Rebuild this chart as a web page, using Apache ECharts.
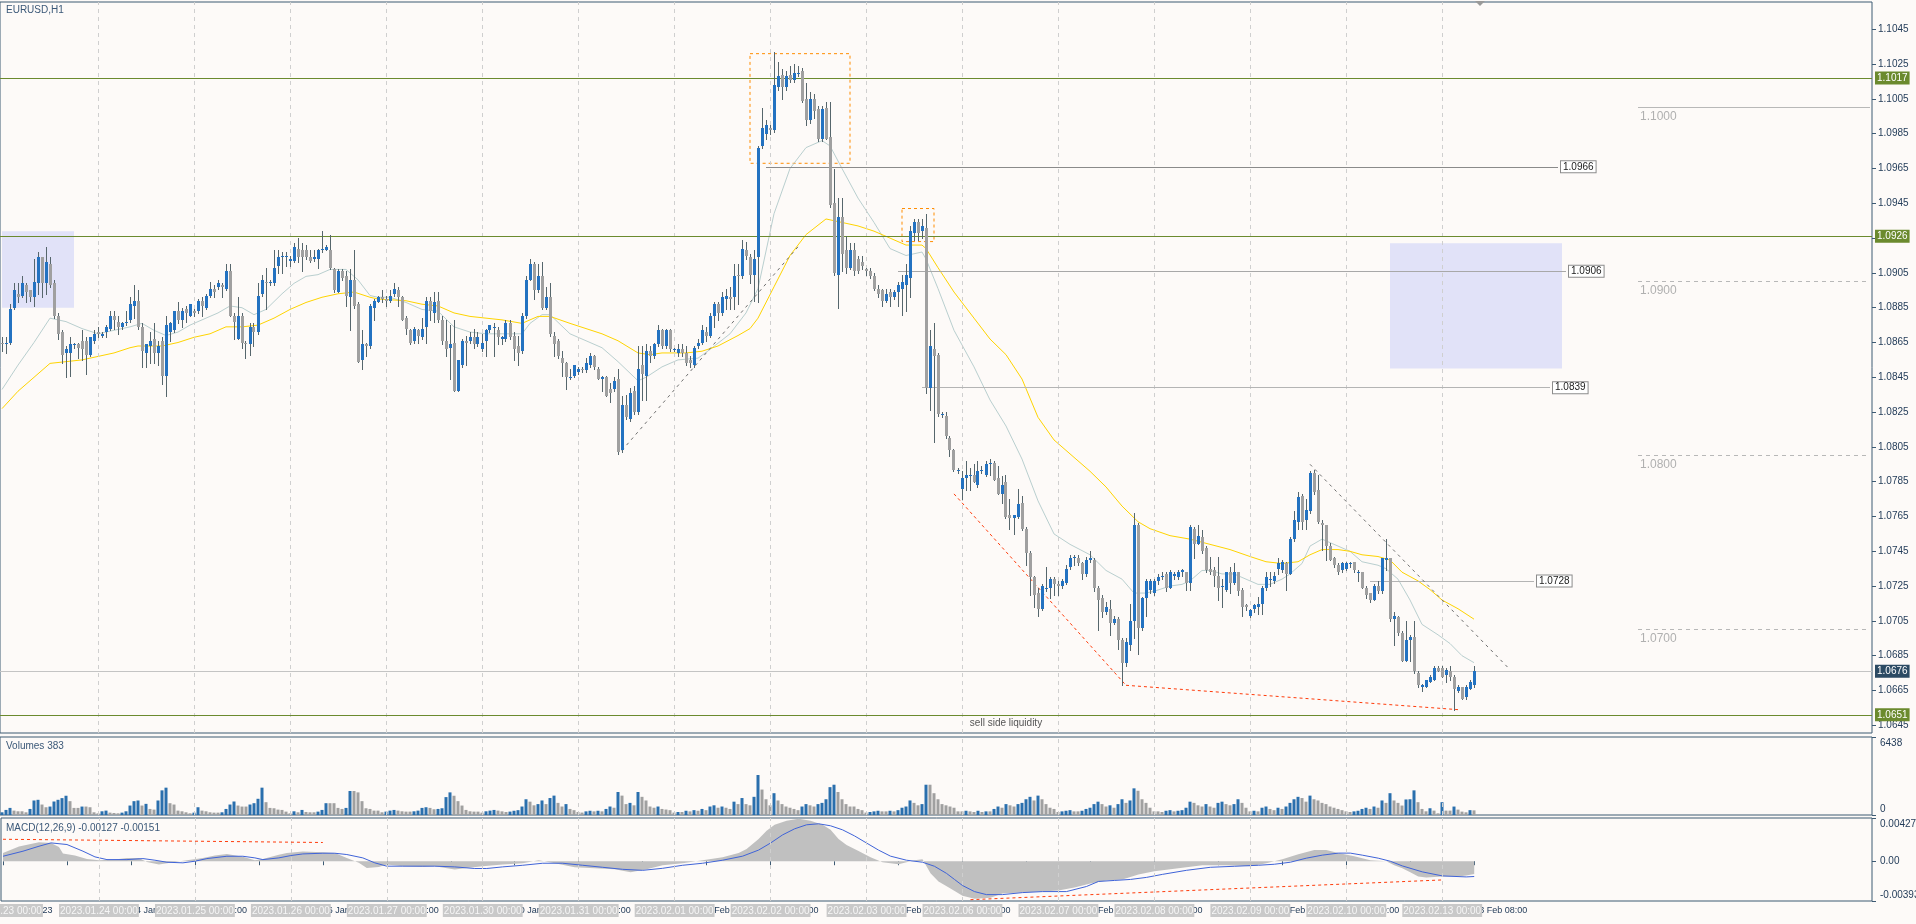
<!DOCTYPE html>
<html><head><meta charset="utf-8">
<script src="https://cdn.jsdelivr.net/npm/echarts@6/dist/echarts.min.js"></script>
<style>html,body{margin:0;padding:0;background:#fdfaf8;}#c{width:1916px;height:924px;}</style>
</head><body><div id="c"></div>
<script>
// ---------- DATA ----------
const dayShort = ['23 Jan','24 Jan','25 Jan','26 Jan','27 Jan','30 Jan','31 Jan','1 Feb','2 Feb','3 Feb','6 Feb','7 Feb','8 Feb','9 Feb','10 Feb','13 Feb','14 Feb','15 Feb','16 Feb','17 Feb'];
const dayFull = ['2023.01.23 00:00','2023.01.24 00:00','2023.01.25 00:00','2023.01.26 00:00','2023.01.27 00:00','2023.01.30 00:00','2023.01.31 00:00','2023.02.01 00:00','2023.02.02 00:00','2023.02.03 00:00','2023.02.06 00:00','2023.02.07 00:00','2023.02.08 00:00','2023.02.09 00:00','2023.02.10 00:00','2023.02.13 00:00'];
// hourly candles [open, high, low, close], EURUSD H1 from 2023.01.23 00:00
const candles = [
[1.0865,1.0868,1.0860,1.0864],[1.0864,1.0868,1.0859,1.0865],[1.0865,1.0887,1.0864,1.0884],[1.0885,1.0899,1.0884,1.0895],[1.0893,1.0899,1.0888,1.0891],
[1.0892,1.0903,1.0891,1.0899],[1.0898,1.0899,1.0888,1.0894],[1.0895,1.0895,1.0889,1.0891],[1.0891,1.0913,1.0886,1.0900],[1.0899,1.0917,1.0893,1.0914],
[1.0914,1.0914,1.0891,1.0899],[1.0899,1.0920,1.0893,1.0911],[1.0910,1.0914,1.0897,1.0898],[1.0899,1.0901,1.0879,1.0880],[1.0880,1.0882,1.0867,1.0870],
[1.0871,1.0872,1.0853,1.0858],[1.0859,1.0863,1.0845,1.0861],[1.0859,1.0868,1.0846,1.0864],[1.0864,1.0865,1.0862,1.0864],[1.0864,1.0865,1.0856,1.0862],
[1.0866,1.0872,1.0855,1.0861],[1.0866,1.0868,1.0847,1.0858],[1.0858,1.0868,1.0857,1.0868],[1.0866,1.0872,1.0865,1.0870],[1.0871,1.0874,1.0868,1.0870],
[1.0869,1.0871,1.0868,1.0870],[1.0871,1.0875,1.0868,1.0874],[1.0873,1.0883,1.0872,1.0880],[1.0880,1.0883,1.0873,1.0878],[1.0877,1.0880,1.0870,1.0874],
[1.0874,1.0877,1.0873,1.0876],[1.0876,1.0883,1.0875,1.0877],[1.0878,1.0891,1.0877,1.0887],[1.0886,1.0898,1.0879,1.0889],[1.0889,1.0895,1.0873,1.0874],
[1.0874,1.0876,1.0851,1.0860],[1.0859,1.0863,1.0851,1.0864],[1.0863,1.0871,1.0853,1.0866],[1.0867,1.0876,1.0853,1.0859],[1.0859,1.0866,1.0852,1.0863],
[1.0866,1.0868,1.0841,1.0846],[1.0846,1.0880,1.0834,1.0875],[1.0871,1.0877,1.0866,1.0876],[1.0872,1.0883,1.0871,1.0883],[1.0883,1.0888,1.0876,1.0878],
[1.0878,1.0885,1.0874,1.0883],[1.0884,1.0886,1.0877,1.0882],[1.0880,1.0887,1.0880,1.0887],[1.0883,1.0884,1.0880,1.0882],[1.0883,1.0890,1.0882,1.0889],
[1.0889,1.0891,1.0880,1.0886],[1.0885,1.0893,1.0884,1.0892],[1.0892,1.0900,1.0891,1.0896],[1.0896,1.0898,1.0891,1.0894],[1.0897,1.0901,1.0896,1.0899],
[1.0898,1.0899,1.0891,1.0897],[1.0896,1.0910,1.0895,1.0906],[1.0906,1.0910,1.0880,1.0880],[1.0880,1.0882,1.0867,1.0877],[1.0867,1.0891,1.0867,1.0880],
[1.0880,1.0882,1.0862,1.0865],[1.0865,1.0866,1.0856,1.0864],[1.0864,1.0876,1.0858,1.0874],[1.0874,1.0876,1.0863,1.0871],[1.0871,1.0899,1.0870,1.0892],
[1.0893,1.0904,1.0892,1.0901],[1.0900,1.0908,1.0884,1.0899],[1.0899,1.0901,1.0898,1.0900],[1.0899,1.0918,1.0898,1.0908],[1.0909,1.0918,1.0905,1.0914],
[1.0914,1.0917,1.0905,1.0915],[1.0914,1.0917,1.0909,1.0915],[1.0912,1.0915,1.0909,1.0913],[1.0912,1.0922,1.0911,1.0920],[1.0919,1.0925,1.0911,1.0914],
[1.0918,1.0922,1.0906,1.0914],[1.0918,1.0921,1.0913,1.0914],[1.0914,1.0918,1.0911,1.0912],[1.0913,1.0918,1.0912,1.0914],[1.0913,1.0919,1.0908,1.0918],
[1.0918,1.0929,1.0917,1.0919],[1.0918,1.0921,1.0918,1.0920],[1.0918,1.0927,1.0907,1.0908],[1.0907,1.0908,1.0894,1.0895],[1.0894,1.0907,1.0894,1.0906],
[1.0906,1.0907,1.0901,1.0902],[1.0903,1.0906,1.0886,1.0892],[1.0891,1.0907,1.0872,1.0901],[1.0901,1.0918,1.0885,1.0886],[1.0887,1.0888,1.0854,1.0854],
[1.0855,1.0872,1.0850,1.0864],[1.0864,1.0865,1.0857,1.0863],[1.0863,1.0887,1.0862,1.0886],[1.0885,1.0890,1.0878,1.0889],[1.0888,1.0892,1.0888,1.0891],
[1.0891,1.0895,1.0888,1.0890],[1.0890,1.0892,1.0886,1.0889],[1.0889,1.0895,1.0888,1.0892],[1.0893,1.0899,1.0892,1.0896],[1.0895,1.0897,1.0886,1.0891],
[1.0891,1.0892,1.0878,1.0878],[1.0879,1.0880,1.0870,1.0873],[1.0872,1.0873,1.0864,1.0865],[1.0866,1.0874,1.0865,1.0873],[1.0872,1.0873,1.0865,1.0869],
[1.0868,1.0879,1.0867,1.0873],[1.0874,1.0891,1.0865,1.0889],[1.0889,1.0891,1.0878,1.0883],[1.0882,1.0894,1.0877,1.0888],[1.0889,1.0894,1.0877,1.0878],
[1.0878,1.0880,1.0864,1.0866],[1.0866,1.0878,1.0857,1.0861],[1.0862,1.0875,1.0844,1.0864],[1.0865,1.0878,1.0837,1.0837],[1.0837,1.0855,1.0837,1.0855],
[1.0852,1.0867,1.0851,1.0866],[1.0866,1.0869,1.0852,1.0865],[1.0866,1.0871,1.0865,1.0868],[1.0868,1.0873,1.0862,1.0864],[1.0864,1.0871,1.0863,1.0868],
[1.0861,1.0870,1.0860,1.0865],[1.0866,1.0873,1.0857,1.0872],[1.0872,1.0875,1.0871,1.0875],[1.0874,1.0876,1.0857,1.0874],[1.0872,1.0874,1.0864,1.0868],
[1.0867,1.0869,1.0864,1.0868],[1.0867,1.0878,1.0866,1.0876],[1.0876,1.0878,1.0867,1.0868],[1.0869,1.0871,1.0855,1.0861],[1.0863,1.0869,1.0852,1.0859],
[1.0860,1.0882,1.0859,1.0880],[1.0880,1.0903,1.0879,1.0901],[1.0901,1.0913,1.0901,1.0910],[1.0910,1.0911,1.0890,1.0895],[1.0895,1.0910,1.0894,1.0903],
[1.0903,1.0911,1.0884,1.0885],[1.0885,1.0897,1.0884,1.0891],[1.0891,1.0899,1.0869,1.0870],[1.0869,1.0871,1.0857,1.0864],[1.0866,1.0867,1.0856,1.0857],
[1.0856,1.0860,1.0846,1.0853],[1.0853,1.0854,1.0838,1.0845],[1.0845,1.0850,1.0844,1.0845],[1.0846,1.0852,1.0845,1.0852],[1.0848,1.0851,1.0847,1.0850],
[1.0850,1.0851,1.0848,1.0849],[1.0849,1.0856,1.0848,1.0853],[1.0852,1.0859,1.0851,1.0857],[1.0857,1.0858,1.0850,1.0851],[1.0850,1.0851,1.0844,1.0844],
[1.0844,1.0846,1.0837,1.0845],[1.0845,1.0846,1.0834,1.0834],[1.0838,1.0842,1.0831,1.0836],[1.0838,1.0845,1.0837,1.0843],[1.0844,1.0850,1.0801,1.0802],
[1.0803,1.0834,1.0802,1.0829],[1.0829,1.0835,1.0821,1.0822],[1.0821,1.0839,1.0820,1.0836],[1.0837,1.0840,1.0824,1.0825],[1.0825,1.0863,1.0824,1.0850],
[1.0852,1.0863,1.0832,1.0847],[1.0846,1.0864,1.0832,1.0860],[1.0860,1.0863,1.0854,1.0857],[1.0857,1.0865,1.0856,1.0864],[1.0864,1.0875,1.0863,1.0872],
[1.0872,1.0873,1.0862,1.0863],[1.0863,1.0873,1.0862,1.0872],[1.0872,1.0873,1.0860,1.0861],[1.0861,1.0862,1.0860,1.0861],[1.0859,1.0864,1.0857,1.0861],
[1.0861,1.0864,1.0857,1.0859],[1.0859,1.0863,1.0852,1.0853],[1.0855,1.0857,1.0851,1.0853],[1.0852,1.0863,1.0851,1.0862],[1.0863,1.0867,1.0862,1.0865],
[1.0865,1.0875,1.0864,1.0872],[1.0871,1.0874,1.0866,1.0869],[1.0869,1.0882,1.0868,1.0880],[1.0880,1.0888,1.0874,1.0887],[1.0887,1.0888,1.0878,1.0882],
[1.0882,1.0894,1.0881,1.0891],[1.0890,1.0896,1.0884,1.0892],[1.0891,1.0897,1.0884,1.0890],[1.0891,1.0910,1.0884,1.0903],[1.0904,1.0910,1.0887,1.0903],
[1.0903,1.0924,1.0902,1.0919],[1.0918,1.0923,1.0913,1.0915],[1.0914,1.0916,1.0899,1.0904],[1.0904,1.0918,1.0889,1.0913],[1.0914,1.0978,1.0888,1.0977],
[1.0978,1.1000,1.0977,1.0988],[1.0985,1.0993,1.0982,1.0990],[1.0988,1.0990,1.0985,1.0987],[1.0987,1.1032,1.0986,1.1013],[1.1012,1.1026,1.1010,1.1018],
[1.1019,1.1022,1.1005,1.1012],[1.1012,1.1021,1.1010,1.1018],[1.1019,1.1024,1.1015,1.1016],[1.1016,1.1025,1.1015,1.1020],[1.1020,1.1024,1.1018,1.1020],
[1.1021,1.1023,1.1003,1.1004],[1.1005,1.1014,1.0990,1.0993],[1.0993,1.1009,1.0991,1.1005],[1.1005,1.1008,1.0994,1.0998],[1.0999,1.1001,1.0981,1.0982],
[1.0982,1.1001,1.0981,1.0999],[1.1000,1.1003,1.0982,1.0982],[1.0983,1.1003,1.0943,1.0944],[1.0945,1.0965,1.0904,1.0905],[1.0904,1.0948,1.0885,1.0937],
[1.0937,1.0948,1.0906,1.0916],[1.0918,1.0926,1.0905,1.0908],[1.0908,1.0922,1.0907,1.0918],[1.0918,1.0922,1.0904,1.0906],[1.0913,1.0915,1.0905,1.0906],
[1.0911,1.0915,1.0907,1.0909],[1.0907,1.0908,1.0904,1.0906],[1.0906,1.0908,1.0902,1.0903],[1.0903,1.0905,1.0895,1.0896],[1.0896,1.0898,1.0891,1.0893],
[1.0895,1.0896,1.0886,1.0889],[1.0889,1.0896,1.0888,1.0893],[1.0894,1.0896,1.0886,1.0891],[1.0891,1.0895,1.0890,1.0894],[1.0894,1.0900,1.0886,1.0898],
[1.0896,1.0904,1.0881,1.0900],[1.0898,1.0910,1.0883,1.0904],[1.0902,1.0932,1.0891,1.0929],[1.0928,1.0936,1.0924,1.0934],[1.0934,1.0936,1.0924,1.0928],
[1.0929,1.0936,1.0925,1.0932],[1.0931,1.0939,1.0836,1.0839],[1.0839,1.0872,1.0826,1.0863],[1.0861,1.0876,1.0808,1.0857],[1.0858,1.0859,1.0823,1.0824],
[1.0824,1.0825,1.0822,1.0824],[1.0823,1.0825,1.0810,1.0811],[1.0810,1.0811,1.0800,1.0803],[1.0803,1.0804,1.0791,1.0792],[1.0792,1.0793,1.0790,1.0792],
[1.0781,1.0791,1.0775,1.0787],[1.0787,1.0797,1.0780,1.0789],[1.0788,1.0793,1.0780,1.0789],[1.0789,1.0795,1.0785,1.0785],[1.0783,1.0797,1.0782,1.0791],
[1.0791,1.0794,1.0790,1.0792],[1.0789,1.0797,1.0788,1.0795],[1.0795,1.0798,1.0789,1.0796],[1.0796,1.0797,1.0786,1.0786],[1.0787,1.0794,1.0778,1.0778],
[1.0778,1.0788,1.0773,1.0783],[1.0785,1.0789,1.0764,1.0765],[1.0766,1.0775,1.0758,1.0764],[1.0764,1.0766,1.0755,1.0766],[1.0765,1.0781,1.0764,1.0772],
[1.0773,1.0777,1.0757,1.0758],[1.0758,1.0759,1.0737,1.0744],[1.0744,1.0745,1.0720,1.0730],[1.0730,1.0731,1.0713,1.0720],[1.0721,1.0724,1.0708,1.0712],
[1.0712,1.0726,1.0711,1.0725],[1.0724,1.0736,1.0722,1.0724],[1.0724,1.0730,1.0718,1.0729],[1.0729,1.0730,1.0720,1.0726],[1.0726,1.0728,1.0720,1.0725],
[1.0725,1.0729,1.0724,1.0728],[1.0727,1.0737,1.0726,1.0735],[1.0736,1.0743,1.0735,1.0741],[1.0741,1.0743,1.0737,1.0742],[1.0741,1.0743,1.0737,1.0738],
[1.0738,1.0739,1.0729,1.0732],[1.0732,1.0742,1.0731,1.0740],[1.0740,1.0745,1.0739,1.0741],[1.0740,1.0741,1.0722,1.0724],[1.0724,1.0725,1.0700,1.0717],
[1.0718,1.0720,1.0707,1.0710],[1.0710,1.0716,1.0709,1.0713],[1.0712,1.0717,1.0697,1.0704],[1.0704,1.0708,1.0703,1.0706],[1.0706,1.0707,1.0689,1.0694],
[1.0694,1.0695,1.0668,1.0681],[1.0681,1.0695,1.0679,1.0693],[1.0691,1.0715,1.0688,1.0705],[1.0705,1.0767,1.0695,1.0760],[1.0760,1.0761,1.0686,1.0701],
[1.0701,1.0719,1.0700,1.0718],[1.0718,1.0729,1.0708,1.0728],[1.0723,1.0729,1.0721,1.0728],[1.0721,1.0729,1.0720,1.0728],[1.0728,1.0732,1.0726,1.0730],
[1.0730,1.0733,1.0729,1.0731],[1.0732,1.0733,1.0722,1.0724],[1.0724,1.0734,1.0724,1.0733],[1.0731,1.0733,1.0729,1.0732],[1.0730,1.0734,1.0729,1.0733],
[1.0733,1.0735,1.0731,1.0734],[1.0733,1.0733,1.0723,1.0727],[1.0727,1.0760,1.0723,1.0759],[1.0758,1.0759,1.0741,1.0749],[1.0749,1.0760,1.0749,1.0754],
[1.0753,1.0757,1.0744,1.0745],[1.0747,1.0748,1.0733,1.0734],[1.0735,1.0742,1.0732,1.0733],[1.0734,1.0736,1.0725,1.0731],[1.0731,1.0742,1.0717,1.0724],
[1.0725,1.0729,1.0713,1.0725],[1.0723,1.0733,1.0722,1.0733],[1.0733,1.0736,1.0721,1.0727],[1.0727,1.0738,1.0726,1.0733],[1.0733,1.0733,1.0720,1.0722],
[1.0723,1.0724,1.0708,1.0713],[1.0714,1.0715,1.0711,1.0713],[1.0708,1.0712,1.0707,1.0711],[1.0712,1.0715,1.0710,1.0714],[1.0713,1.0719,1.0709,1.0715],
[1.0715,1.0725,1.0709,1.0724],[1.0724,1.0733,1.0723,1.0730],[1.0729,1.0733,1.0725,1.0729],[1.0728,1.0733,1.0727,1.0731],[1.0735,1.0741,1.0732,1.0738],
[1.0734,1.0740,1.0733,1.0739],[1.0738,1.0739,1.0723,1.0732],[1.0732,1.0753,1.0732,1.0752],[1.0752,1.0768,1.0751,1.0763],[1.0762,1.0779,1.0758,1.0776],
[1.0777,1.0778,1.0758,1.0762],[1.0763,1.0775,1.0758,1.0769],[1.0768,1.0791,1.0767,1.0790],[1.0790,1.0792,1.0778,1.0779],[1.0780,1.0789,1.0761,1.0762],
[1.0761,1.0763,1.0746,1.0760],[1.0760,1.0760,1.0740,1.0748],[1.0748,1.0750,1.0740,1.0740],[1.0741,1.0742,1.0736,1.0737],[1.0737,1.0738,1.0732,1.0733],
[1.0734,1.0739,1.0733,1.0738],[1.0735,1.0739,1.0734,1.0738],[1.0738,1.0739,1.0736,1.0738],[1.0739,1.0739,1.0733,1.0734],[1.0733,1.0734,1.0728,1.0733],
[1.0733,1.0733,1.0724,1.0724],[1.0724,1.0725,1.0718,1.0720],[1.0721,1.0721,1.0716,1.0717],[1.0717,1.0726,1.0717,1.0725],[1.0725,1.0728,1.0721,1.0722],
[1.0722,1.0741,1.0721,1.0741],[1.0740,1.0752,1.0734,1.0741],[1.0741,1.0741,1.0705,1.0706],[1.0706,1.0710,1.0691,1.0708],[1.0707,1.0708,1.0697,1.0698],
[1.0698,1.0699,1.0682,1.0682],[1.0682,1.0705,1.0682,1.0694],[1.0694,1.0697,1.0682,1.0696],[1.0696,1.0705,1.0675,1.0676],[1.0675,1.0676,1.0667,1.0668],
[1.0667,1.0669,1.0665,1.0668],[1.0667,1.0671,1.0667,1.0671],[1.0670,1.0674,1.0670,1.0673],[1.0671,1.0679,1.0671,1.0678],[1.0678,1.0679,1.0676,1.0676],
[1.0678,1.0679,1.0673,1.0673],[1.0674,1.0678,1.0670,1.0677],[1.0676,1.0679,1.0671,1.0673],[1.0673,1.0674,1.0654,1.0666],[1.0665,1.0668,1.0664,1.0667],
[1.0667,1.0667,1.0660,1.0660],[1.0661,1.0668,1.0660,1.0667],[1.0666,1.0671,1.0666,1.0670],[1.0668,1.0679,1.0667,1.0676]
];
// tick volumes per bar
const volumes = [
223,418,585,362,306,306,223,500,1198,1254, 864,641,697,1115,1254,1393,1589,1143,585,585,
697,697,641,223,139,306,362,195,167,139, 195,306,780,1143,1198,780,920,500,446,1198,
2034,2257,975,864,362,306,223,139,195,641, 362,306,223,195,195,223,500,864,1115,780,
697,697,864,975,1338,2257,1059,585,557,446, 418,279,139,306,223,418,251,223,223,279,
418,975,975,975,585,500,585,1979,1979,1867, 1143,557,500,362,362,223,279,362,418,362,
306,279,279,306,362,585,641,585,474,500, 557,1477,1867,1589,1143,780,418,306,279,279,
195,306,362,418,362, 300,250,280,350,400,700,1300,1100,800,900,1200,900,1400,1600,1000,700,900,500,400,
250,200,300,350,300,350,300,500,700,600,1900,1600,900,1000,800,1900,1500,1200,700,600,700,500,450,400,
200,250,250,350,300,400,350,500,400,700,800,600,700,600,500,1100,900,1400,900,800,1500,3300,2100,1300,
800,1800,1200,900,700,600,500,400,700,900,800,700,900,1000,1300,2300,2500,1900,1300,900,700,700,500,400,
200,250,300,350,300,300,350,300,400,600,700,1200,1000,800,900,2500,2500,1800,1300,900,800,700,600,300,
300,350,300,250,350,250,300,300,500,700,600,900,800,700,900,1000,1300,1500,1200,1600,1300,900,600,500,
250,300,350,400,300,300,350,500,600,900,1100,900,700,800,600,900,1300,1000,1200,2200,2000,1300,1000,600,
300,300,250,350,400,300,350,400,600,1100,1000,800,700,900,700,600,1000,1100,900,800,900,1300,1000,600,
300,350,300,600,700,500,400,600,500,700,1000,1300,1500,1400,1100,1600,1300,1200,1000,900,700,600,500,400,
300,250,300,350,500,600,500,700,600,1200,1000,1800,1200,1000,
780,1282,1300,2034,1059,500,306,557,362,139,1059,362,362,697,446,279,223,400,383
];
const fastMA = [[0,1.0838],[4,1.0852],[8,1.0865],[12,1.0879],[16,1.0877],[20,1.0873],[24,1.0870],[28,1.0872],[32,1.0874],[35,1.0876],[38,1.0872],[41,1.0869],[44,1.0871],[47,1.0875],[50,1.0878],[54,1.0882],[57,1.0886],[60,1.0885],[63,1.0881],[66,1.0884],[70,1.0893],[73,1.0899],[76,1.0903],[79,1.0904],[82,1.0907],[86,1.0907],[89,1.0901],[92,1.0892],[94,1.0891],[97,1.0891],[101,1.0888],[105,1.0884],[109,1.0883],[113,1.0874],[117,1.0871],[121,1.0870],[125,1.0870],[130,1.0870],[132,1.0876],[135,1.0881],[137,1.0881],[142,1.0870],[146,1.0866],[150,1.0862],[154,1.0854],[159,1.0843],[161,1.0845],[165,1.0851],[169,1.0855],[174,1.0856],[177,1.0861],[182,1.0870],[186,1.0882],[189,1.0896],[193,1.0939],[197,1.0965],[201,1.0977],[205,1.0981],[207,1.0978],[210,1.0965],[214,1.0948],[218,1.0934],[222,1.0919],[226,1.0915],[230,1.0917],[231,1.0913],[234,1.0896],[238,1.0872],[243,1.0851],[247,1.0832],[251,1.0817],[255,1.0798],[259,1.0774],[263,1.0755],[267,1.0749],[272,1.0743],[276,1.0734],[280,1.0729],[283,1.0721],[286,1.0721],[288,1.0722],[292,1.0725],[295,1.0726],[297,1.0728],[300,1.0734],[302,1.0734],[305,1.0732],[308,1.0732],[311,1.0729],[314,1.0726],[317,1.0726],[320,1.0729],[322,1.0732],[325,1.0738],[327,1.0748],[330,1.0752],[334,1.0748],[337,1.0745],[340,1.0739],[344,1.0737],[346,1.0735],[349,1.0729],[352,1.0717],[355,1.0703],[359,1.0697],[362,1.0692],[365,1.0685],[368,1.0681]];
const slowMA = [[0,1.0827],[4,1.0837],[8,1.0845],[12,1.0853],[16,1.0854],[20,1.0855],[24,1.0857],[28,1.0859],[32,1.0862],[34,1.0863],[40,1.0863],[44,1.0865],[48,1.0868],[52,1.0870],[56,1.0874],[60,1.0874],[64,1.0875],[68,1.0879],[72,1.0884],[76,1.0888],[80,1.0891],[84,1.0893],[88,1.0894],[92,1.0891],[94,1.0890],[101,1.0889],[105,1.0887],[109,1.0886],[113,1.0882],[117,1.0880],[121,1.0879],[125,1.0878],[130,1.0876],[134,1.0880],[137,1.0880],[142,1.0876],[146,1.0873],[150,1.0870],[154,1.0866],[159,1.0859],[162,1.0858],[165,1.0859],[171,1.0859],[175,1.0860],[179,1.0863],[184,1.0869],[187,1.0873],[189,1.0879],[193,1.0897],[197,1.0915],[201,1.0927],[206,1.0936],[210,1.0934],[214,1.0932],[218,1.0929],[222,1.0925],[226,1.0921],[230,1.0921],[231,1.0919],[234,1.0908],[238,1.0894],[243,1.0879],[247,1.0867],[251,1.0858],[255,1.0844],[259,1.0822],[263,1.0809],[267,1.0801],[272,1.0791],[276,1.0782],[280,1.0771],[284,1.0762],[287,1.0758],[292,1.0754],[297,1.0752],[302,1.0749],[307,1.0746],[312,1.0742],[316,1.0739],[320,1.0738],[324,1.0739],[327,1.0743],[330,1.0746],[334,1.0746],[337,1.0745],[340,1.0743],[344,1.0742],[347,1.0740],[350,1.0733],[354,1.0728],[357,1.0723],[360,1.0717],[364,1.0712],[368,1.0706]];
// MACD main (histogram) and signal, read at sampled bars: [bar index, value]
const macdHist = [[0,0.00082],[4,0.00145],[9,0.00188],[12,0.00181],[14,0.00141],[15,0.00076],[18,0.00056],[21,0.00023],[24,0.0001],[28,0.00016],[31,0.00033],[34,0.00033],[36,-0.00007],[39,-0.00033],[43,-0.00007],[46,0.0001],[50,0.00033],[53,0.00056],[56,0.00072],[60,0.00043],[63,0.0001],[65,0.00023],[69,0.00063],[71,0.00082],[75,0.00095],[80,0.00089],[83,0.00082],[86,0.00033],[89,-0.00016],[91,-0.00066],[94,-0.00056],[96,-0.00033],[100,-0.00049],[105,-0.00056],[108,-0.00049],[113,-0.00082],[116,-0.00066],[120,-0.00049],[125,-0.00033],[130,-0.0002],[134,0.0001],[138,-0.0002],[143,-0.0006],[148,-0.0007],[153,-0.0008],[157,-0.0011],[161,-0.0008],[165,-0.0004],[170,-0.0002],[175,0.0001],[180,0.0004],[184,0.0008],[186,0.0012],[189,0.0022],[191,0.0030],[193,0.0036],[196,0.0040],[199,0.0042],[202,0.0040],[205,0.0036],[207,0.0031],[209,0.0022],[211,0.0016],[214,0.0010],[217,0.0004],[220,-0.0001],[224,-0.0003],[228,0.0001],[230,0.0002],[232,-0.0012],[234,-0.0020],[237,-0.0027],[240,-0.0034],[243,-0.0037],[247,-0.0036],[250,-0.0032],[255,-0.0031],[260,-0.0030],[264,-0.0029],[268,-0.0026],[272,-0.0022],[276,-0.0019],[280,-0.0018],[284,-0.0013],[288,-0.0010],[294,-0.0007],[300,-0.0004],[306,-0.0004],[312,-0.0005],[316,-0.0002],[320,0.0002],[324,0.0007],[328,0.0011],[331,0.0011],[334,0.0008],[338,0.0005],[342,0.0001],[346,0.0000],[348,-0.0004],[350,-0.0007],[352,-0.0011],[354,-0.0015],[356,-0.0016],[360,-0.0015],[364,-0.0015],[366,-0.0014],[368,-0.00127]];
const macdSignal = [[0,0.00049],[5,0.00099],[9,0.00148],[12,0.00181],[16,0.00165],[20,0.00099],[23,0.00043],[26,0.00016],[31,0.00016],[35,0.00026],[38,0.0001],[41,-0.0001],[45,-0.00016],[48,0],[51,0.00026],[56,0.00049],[60,0.00049],[63,0.00033],[65,0.00016],[69,0.00033],[72,0.00056],[75,0.00072],[80,0.00079],[83,0.00079],[86,0.00066],[90,0.00033],[93,-0.00016],[96,-0.00049],[100,-0.00049],[105,-0.00049],[108,-0.00049],[113,-0.00056],[118,-0.00072],[121,-0.00072],[125,-0.00056],[130,-0.0004],[135,-0.0002],[140,-0.0002],[145,-0.0004],[150,-0.0006],[155,-0.0008],[160,-0.0009],[165,-0.0007],[170,-0.0004],[175,-0.0002],[180,0.0001],[185,0.0005],[189,0.0011],[192,0.0018],[195,0.0026],[198,0.0032],[201,0.0036],[204,0.0037],[207,0.0035],[210,0.0031],[213,0.0025],[216,0.0018],[219,0.0011],[222,0.0005],[226,0.0001],[230,-0.0001],[233,-0.0005],[236,-0.0012],[238,-0.0018],[240,-0.0024],[243,-0.0030],[246,-0.0033],[250,-0.0033],[255,-0.0031],[260,-0.0030],[266,-0.0030],[271,-0.0025],[274,-0.0020],[278,-0.0019],[282,-0.0018],[286,-0.0016],[290,-0.0013],[296,-0.0009],[302,-0.0006],[308,-0.0005],[314,-0.0004],[318,-0.0003],[322,-0.0001],[326,0.0003],[330,0.0006],[334,0.0008],[337,0.0008],[340,0.0006],[344,0.0003],[347,0.0000],[350,-0.00046],[355,-0.00105],[360,-0.00145],[366,-0.00155],[368,-0.00151]];
const priceTicks = [1.0645,1.0665,1.0685,1.0705,1.0725,1.0745,1.0765,1.0785,1.0805,1.0825,1.0845,1.0865,1.0885,1.0905,1.0925,1.0945,1.0965,1.0985,1.1005,1.1025,1.1045];
const keyLevels = [1.1017, 1.0926, 1.0651];      // green horizontal levels
const lastPrice = 1.0676;
const boxLevels = [[1.0966,191,389],[1.0906,224,391],[1.0839,230,387],[1.0728,342,383]]; // [price, fromBar, toBar]
const roundLevels = [1.1000, 1.0900, 1.0800, 1.0700];
const volMax = 6438, macdMax = 0.00427, macdMin = -0.00393;

// ---------- CHART ----------
const N = 468;
const categories = [];
for (let i = 0; i < N; i++) {
  categories.push(dayShort[Math.floor(i / 24)] + ' ' + String(i % 24).padStart(2, '0') + ':00');
}
const FONT = '"Liberation Sans", Arial, sans-serif';
const AX = '#3d5a73';
const TXT = '#243d5a';
const WICK = '#56666c', BULL = '#2372c1', BEAR = '#a0a0a0', VBLUE = '#2a6fad';
const dayLines = [];
for (let i = 24; i <= 360; i += 24) dayLines.push({ xAxis: i });
const gridLineML = { silent: true, symbol: ['none', 'none'], precision: 6, label: { show: false },
  lineStyle: { color: '#cfcfcf', type: [4, 4], width: 1 }, data: dayLines };

const chart = echarts.init(document.getElementById('c'));
const mlData = [];
keyLevels.forEach(v => mlData.push({ yAxis: v, lineStyle: { color: '#6b8a2e', width: 1, type: 'solid' },
  label: { show: true, position: 'end', distance: 3, formatter: v.toFixed(4), color: '#fff', backgroundColor: '#6b8a2e', padding: [2, 2, 1, 2], fontSize: 10, fontFamily: FONT } }));
mlData.push({ yAxis: lastPrice, lineStyle: { color: '#c4c4c4', width: 1, type: 'solid' },
  label: { show: true, position: 'end', distance: 3, formatter: lastPrice.toFixed(4), color: '#fff', backgroundColor: '#2c4a63', padding: [2, 2, 1, 2], fontSize: 10, fontFamily: FONT } });
const boxColors = ['#8a8a8a', '#a8a8a8', '#b4b4b4', '#b4b4b4'];
boxLevels.forEach(([v, a, b], k) => mlData.push([
  { coord: [a, v], lineStyle: { color: boxColors[k], width: 1, type: 'solid' },
    label: { show: true, position: 'end', distance: 3, formatter: v.toFixed(4), color: '#222', backgroundColor: '#fff', borderColor: '#8c8c8c', borderWidth: 1, padding: [1, 2, 0, 2], fontSize: 10, fontFamily: FONT } },
  { coord: [b, v] }]));
roundLevels.forEach((v, k) => mlData.push([
  { coord: [409, v], lineStyle: { color: '#b8b8b8', width: 1, type: k === 0 ? 'solid' : [4, 4] },
    label: { show: true, position: 'insideStartBottom', distance: [2, 3], formatter: v.toFixed(4), color: '#b0b0b0', fontSize: 12, fontFamily: FONT } },
  { coord: [467, v] }]));
const seg = (a, b, color, dash) => [{ coord: a, lineStyle: { color: color, width: 1, type: dash }, label: { show: false } }, { coord: b }];
mlData.push(seg([155, 1.0803], [199, 1.0920], '#6f6f6f', [3, 4]));
mlData.push(seg([327, 1.0795], [377, 1.0677], '#6f6f6f', [3, 4]));
mlData.push(seg([238, 1.0778], [281, 1.0668], '#ff3b0a', [3, 3]));
mlData.push(seg([281, 1.0668], [364, 1.0654], '#ff3b0a', [3, 3]));
const macdMarks = { silent: true, symbol: ['none', 'none'], precision: 6, label: { show: false },
  data: dayLines.map(d => Object.assign({ lineStyle: { color: '#cfcfcf', type: [4, 4], width: 1 } }, d)).concat([
    seg([0, 0.00217], [80, 0.00185], '#ff3b0a', [3, 3]),
    seg([242, -0.0038], [360, -0.00185], '#ff3b0a', [3, 3])
  ]) };

// candle glyph drawn through the axes' own scales: wick above / below the body, body 3px wide
function renderCandle(params, api) {
  const i = api.value(0), o = api.value(1), h = api.value(2), l = api.value(3), c = api.value(4);
  const pO = api.coord([i, o]), pC = api.coord([i, c]), pH = api.coord([i, h]), pL = api.coord([i, l]);
  const x = Math.floor(pO[0]);
  const yH = Math.round(pH[1]), yL = Math.round(pL[1]);
  const top = Math.round(Math.min(pO[1], pC[1])), bot = Math.max(top + 1, Math.round(Math.max(pO[1], pC[1])));
  const bull = c >= o;
  const kids = [];
  if (top > yH) kids.push({ type: 'rect', shape: { x: x, y: yH, width: 1, height: top - yH }, style: { fill: WICK } });
  if (yL + 1 > bot) kids.push({ type: 'rect', shape: { x: x, y: bot, width: 1, height: yL + 1 - bot }, style: { fill: WICK } });
  kids.push({ type: 'rect', shape: { x: x - 1, y: top, width: 3, height: bot - top }, style: { fill: bull ? BULL : BEAR } });
  return { type: 'group', children: kids };
}

const tickShow = (i) => i % 16 === 0 && i <= 368;
const option = {
  animation: false,
  backgroundColor: '#fdfaf8',
  textStyle: { fontFamily: FONT },
  grid: [
    { left: 0, right: 44, top: 2, height: 731, show: true, borderColor: AX, borderWidth: 1 },
    { left: 0, right: 44, top: 737, height: 78, show: true, borderColor: AX, borderWidth: 1 },
    { left: 0, right: 44, top: 818, height: 83, show: true, borderColor: AX, borderWidth: 1 }
  ],
  xAxis: [0, 1, 2].map(g => ({
    type: 'category', gridIndex: g, data: categories, boundaryGap: true,
    axisLine: { show: false }, splitLine: { show: false },
    axisTick: g === 2 ? { show: true, alignWithLabel: true, length: 4, lineStyle: { color: AX }, interval: tickShow } : { show: false },
    axisLabel: g === 2 ? { show: true, interval: tickShow, align: 'left', margin: 4, color: TXT, fontSize: 9, fontFamily: FONT, padding: [1, 0, 0, 0],
      formatter: (v, i) => i === 0 ? '23 Jan 2023' : v } : { show: false }
  })),
  yAxis: [
    { type: 'value', gridIndex: 0, position: 'right', min: 1.064058, max: 1.106069, splitLine: { show: false }, axisLine: { show: false },
      axisTick: { show: true, length: 4, lineStyle: { color: AX }, customValues: priceTicks },
      axisLabel: { show: true, customValues: priceTicks, formatter: v => v.toFixed(4), color: TXT, fontSize: 10, margin: 6, fontFamily: FONT } },
    { type: 'value', gridIndex: 1, position: 'right', min: 0, max: volMax, splitLine: { show: false }, axisLine: { show: false },
      axisTick: { show: true, length: 4, lineStyle: { color: AX }, customValues: [0, volMax] }, axisLabel: { show: false } },
    { type: 'value', gridIndex: 2, position: 'right', min: macdMin, max: macdMax, splitLine: { show: false }, axisLine: { show: false },
      axisTick: { show: true, length: 4, lineStyle: { color: AX }, customValues: [macdMin, 0, macdMax] }, axisLabel: { show: false } }
  ],
  series: [
    { type: 'line', xAxisIndex: 0, yAxisIndex: 0, data: [], z: 1, markLine: gridLineML },
    { type: 'line', xAxisIndex: 1, yAxisIndex: 1, data: [], z: 1, markLine: gridLineML },
    { name: 'zones', type: 'line', xAxisIndex: 0, yAxisIndex: 0, data: [], z: 1,
      markArea: { silent: true, data: [
        [{ coord: [0, 1.0929], itemStyle: { color: 'rgba(215,218,248,0.75)' } }, { coord: [18, 1.0885] }],
        [{ coord: [347, 1.0922], itemStyle: { color: 'rgba(215,218,248,0.75)' } }, { coord: [390, 1.0850] }],
        [{ coord: [187, 1.1031], itemStyle: { color: 'rgba(0,0,0,0)', borderColor: '#ff8c00', borderWidth: 1, borderType: [3, 3] } }, { coord: [212, 1.0968] }],
        [{ coord: [225, 1.0942], itemStyle: { color: 'rgba(0,0,0,0)', borderColor: '#ff8c00', borderWidth: 1, borderType: [3, 3] } }, { coord: [233, 1.0923] }]
      ] } },
    { name: 'levels', type: 'line', xAxisIndex: 0, yAxisIndex: 0, data: [], z: 2,
      markLine: { silent: true, symbol: ['none', 'none'], precision: 6, data: mlData } },
    { name: 'fast', type: 'line', xAxisIndex: 0, yAxisIndex: 0, data: fastMA, showSymbol: false, z: 3,
      lineStyle: { color: '#b9cfcf', width: 1 } },
    { name: 'slow', type: 'line', xAxisIndex: 0, yAxisIndex: 0, data: slowMA, showSymbol: false, z: 3,
      lineStyle: { color: '#ffd400', width: 1 } },
    { name: 'candles', type: 'custom', xAxisIndex: 0, yAxisIndex: 0, z: 5, clip: true,
      data: candles.map(([o, h, l, c], i) => [i, o, h, l, c]),
      encode: { x: 0, y: [1, 2, 3, 4] }, renderItem: renderCandle },
    { name: 'volume', type: 'bar', xAxisIndex: 1, yAxisIndex: 1, barWidth: 3, z: 3,
      data: volumes.map((v, i) => ({ value: v, itemStyle: { color: i > 0 && v <= volumes[i - 1] ? BEAR : VBLUE } })) },
    { name: 'macd', type: 'line', xAxisIndex: 2, yAxisIndex: 2, data: macdHist, showSymbol: false, z: 3,
      lineStyle: { width: 0 }, areaStyle: { color: '#c0c0c0', opacity: 1, origin: 0 }, markLine: macdMarks },
    { name: 'signal', type: 'line', xAxisIndex: 2, yAxisIndex: 2, data: macdSignal, showSymbol: false, z: 4,
      lineStyle: { color: '#3f63d8', width: 1 } }
  ]
};
chart.setOption(option);

// ---------- TEXT OVERLAYS ----------
const g = [];
const T = (x, y, text, extra) => g.push(Object.assign({ type: 'text', silent: true, z: 100,
  style: Object.assign({ x: x, y: y, text: text, fill: '#3b5878', font: '10px ' + FONT }, extra || {}) }));
T(6, 5, 'EURUSD,H1');
T(6, 741, 'Volumes 383');
T(6, 823, 'MACD(12,26,9) -0.00127 -0.00151');
const vTop = chart.convertToPixel({ yAxisIndex: 1 }, volMax), vBot = chart.convertToPixel({ yAxisIndex: 1 }, 0);
T(1880, vTop + 1, String(volMax), { fill: TXT });
T(1880, vBot - 11, '0', { fill: TXT });
const mTop = chart.convertToPixel({ yAxisIndex: 2 }, macdMax), mZero = chart.convertToPixel({ yAxisIndex: 2 }, 0), mBot = chart.convertToPixel({ yAxisIndex: 2 }, macdMin);
T(1880, mTop + 1, macdMax.toFixed(5), { fill: TXT });
T(1880, mZero - 5, '0.00', { fill: TXT });
T(1880, mBot - 11, macdMin.toFixed(5), { fill: TXT });
const sx = chart.convertToPixel({ xAxisIndex: 0 }, 251), sy = chart.convertToPixel({ yAxisIndex: 0 }, 1.0651);
T(sx, sy + 3, 'sell side liquidity', { fill: '#555', align: 'center' });
dayFull.forEach((d, k) => {
  const x = chart.convertToPixel({ xAxisIndex: 2 }, k * 24);
  T(x, 904, d, { fill: '#f6f6f6', align: 'center', backgroundColor: '#c9c9c9', padding: [2, 1, 1, 1] });
});
g.push({ type: 'polygon', silent: true, z: 100, shape: { points: [[1475, 1], [1485, 1], [1480, 6]] }, style: { fill: '#9a9a9a' } });
chart.setOption({ graphic: g });
</script>
</body></html>
